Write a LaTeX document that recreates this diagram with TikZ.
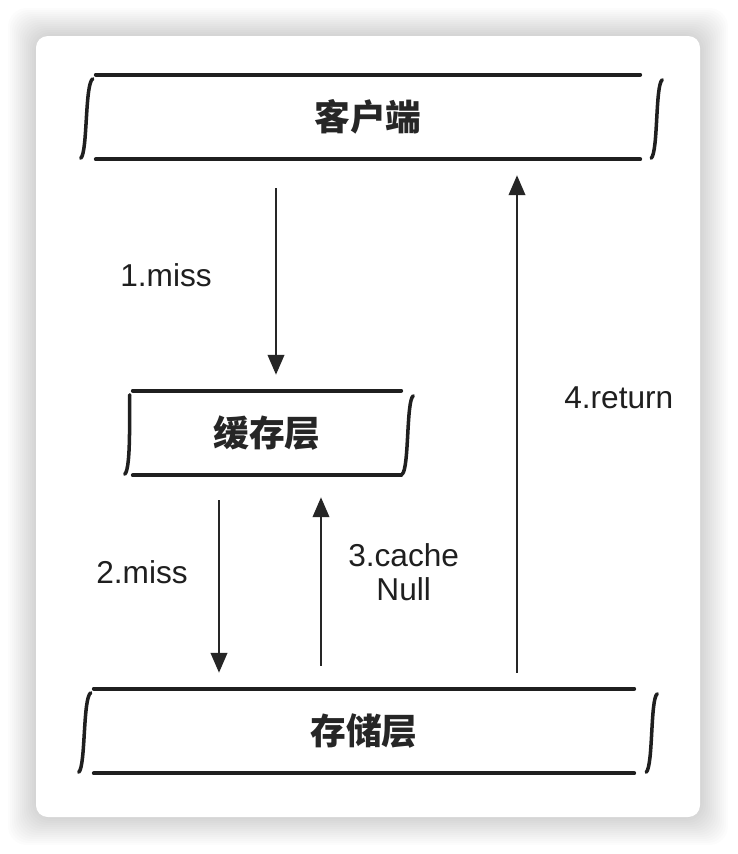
\documentclass[tikz,border=0pt]{standalone}
\usepackage{fontspec}
\setmainfont{Liberation Sans}
\newfontfamily\cjk{Noto Sans CJK SC}
\usetikzlibrary{arrows.meta,calc}

\begin{document}
\begin{tikzpicture}[x=0.03cm, y=-0.03cm,
        layer/.style={inner sep=0, minimum height=2.52cm, text=black!85,
            font=\cjk\bfseries\fontsize{30.5}{36}\selectfont},
        edge/.style={line width=3.3pt, black!88, line cap=round},
        side/.style={line width=3pt, black!88, line cap=round},
        flow/.style={line width=2.2pt, black!85, -{Triangle[length=17pt, width=14pt]}},
        lbl/.style={inner sep=0, text=black!88, align=center,
            font=\fontsize{27}{29}\selectfont}]
        \useasboundingbox[fill=white] (0,0) rectangle (738,854);
        \foreach \i in {1,...,14}
            \fill[black, opacity=0.01, rounded corners=16pt] (36-2*\i,36-2*\i) rectangle (700+2*\i,817+2*\i);
        \fill[white, rounded corners=10pt] (36,36) rectangle (700,817);

        \node[layer, minimum width=16.32cm] (client) at (368,117) {客户端};
        \node[layer, minimum width=8.04cm] (cache) at (267,433) {缓存层};
        \node[layer, minimum width=16.2cm] (storage) at (364,731) {存储层};

        \foreach \b/\l/\r in {client/15/20, cache/8/10, storage/15/21} {
            \draw[edge] (\b.north west) -- (\b.north east);
            \draw[edge] (\b.south west) -- (\b.south east);
            \draw[side] ($(\b.north west)+(-3,4)$) .. controls ($(\b.north west)+(-\l+4,9)$) and ($(\b.south west)+(-\l+7,-7)$) .. ($(\b.south west)+(-\l,-1)$);
            \draw[side] ($(\b.north east)+(\r+2,5)$) .. controls ($(\b.north east)+(\r-5,10)$) and ($(\b.south east)+(\r-2,-8)$) .. ($(\b.south east)+(\r-9,-1)$);
        }

        \draw[flow, shorten <=0.87cm, shorten >=0.48cm] ([xshift=0.27cm]cache.north |- client.south) -- ([xshift=0.27cm]cache.north)
            node[lbl, pos=0.5, left=1.89cm] {1.miss};
        \draw[flow, shorten <=0.75cm, shorten >=0.48cm] ([xshift=-1.44cm]cache.south) -- ([xshift=-1.44cm]cache.south |- storage.north)
            node[lbl, pos=0.455, left=0.9cm] {2.miss};
        \draw[flow, shorten <=0.69cm, shorten >=0.66cm] ([xshift=1.62cm]cache.south |- storage.north) -- ([xshift=1.62cm]cache.south)
            node[lbl, pos=0.545, right=0.78cm] {3.cache\\Null};
        \draw[flow, shorten <=0.48cm, shorten >=0.48cm] ([xshift=4.59cm]storage.north) -- ([xshift=4.59cm]storage.north |- client.south)
            node[lbl, pos=0.55, right=1.38cm] {4.return};
    \end{tikzpicture}
\end{document}
